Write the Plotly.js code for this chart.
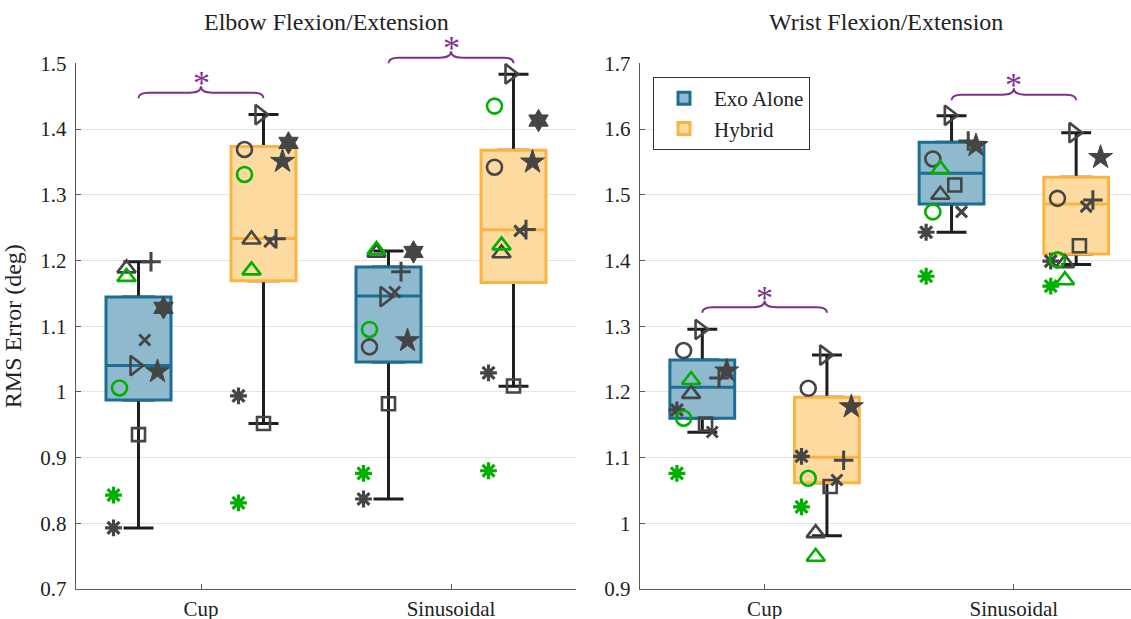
<!DOCTYPE html>
<html>
<head>
<meta charset="utf-8">
<script src="https://cdn.plot.ly/plotly-3.0.1.min.js"></script>
<style>
  html, body { margin: 0; padding: 0; background: #fff; }
  #chart { width: 1131px; height: 619px; }
</style>
</head>
<body>
<div id="chart"></div>
<script>
// ---- categories and conditions ----
const categories = ['Cup', 'Sinusoidal'];
const conditions = ['Exo Alone', 'Hybrid'];
const panelTitles = ['Elbow Flexion/Extension', 'Wrist Flexion/Extension'];

// ---- per-subject RMS errors (deg) ----
// subject order: grey *, grey o, grey triangle, right triangle, square, x, +, star, hexagram,
//                green *, green o, green triangle
const elbowExoCup = [0.793, null, 1.188, 1.040, 0.935, 1.079, 1.198, 1.031, 1.128, 0.843, 1.006, 1.175];
const elbowExoSin = [0.837, 1.0685, 1.212, 1.145, 0.982, 1.152, 1.183, 1.078, 1.213, 0.876, 1.095, 1.216];
const elbowHybCup = [0.994, 1.369, 1.232, 1.422, 0.952, 1.229, 1.233, 1.351, 1.379, 0.831, 1.331, 1.185];
const elbowHybSin = [1.029, 1.342, 1.211, 1.484, 1.009, 1.245, 1.247, 1.350, 1.413, 0.880, 1.435, 1.223];
const wristExoCup = [1.1725, 1.263, 1.197, 1.295, 1.151, 1.139, 1.221, 1.232, null, 1.076, 1.160, 1.218];
const wristExoSin = [1.443, 1.5545, 1.500, 1.621, 1.515, 1.474, 1.582, 1.575, null, 1.376, 1.474, 1.539];
const wristHybCup = [1.102, 1.2055, 0.985, 1.256, 1.056, 1.066, 1.096, 1.1775, null, 1.025, 1.0685, 0.949];
const wristHybSin = [1.399, 1.4946, 1.396, 1.5945, 1.4225, 1.482, 1.492, 1.557, null, 1.361, 1.401, 1.370];

// ---- box statistics: [lower whisker, Q1, median, Q3, upper whisker] ----
const elbowExoCupBox = [0.793, 0.9875, 1.040, 1.1446, 1.198];
const elbowExoSinBox = [0.837, 1.0457, 1.146, 1.190, 1.2146];
const elbowHybCupBox = [0.952, 1.169, 1.2334, 1.3734, 1.4224];
const elbowHybSinBox = [1.0087, 1.1665, 1.2467, 1.3677, 1.4833];
const wristExoCupBox = [1.1385, 1.1598, 1.207, 1.2486, 1.2953];
const wristExoSinBox = [1.443, 1.486, 1.5327, 1.580, 1.6204];
const wristHybCupBox = [0.981, 1.0618, 1.1005, 1.1918, 1.256];
const wristHybSinBox = [1.394, 1.410, 1.486, 1.5266, 1.5945];

// ---- significant pairs (Exo Alone vs Hybrid) per panel and category ----
const sigPanel = [0, 0, 1, 1];
const sigCategory = [0, 1, 0, 1];

// ---- styling ----
const FONT = '"Liberation Serif", "Times New Roman", serif';
const GREY = '#454545';
const GREEN = '#00b000';
const PURPLE = '#7e2f8e';
const WHISKER = '#1e1e1e';
const boxFill = ['#8fbace', '#fddaa0'];
const boxEdge = ['#1c6e94', '#fbb443'];
const condOffset = [-0.25, 0.25];

const subjectSymbol = ['asterisk-open', 'circle-open', 'triangle-up-open', 'triangle-right-open',
  'square-open', 'x-thin-open', 'cross-thin-open', 'star', 'hexagram',
  'asterisk-open', 'circle-open', 'triangle-up-open'];
const subjectColor = [GREY, GREY, GREY, GREY, GREY, GREY, GREY, GREY, GREY, GREEN, GREEN, GREEN];
const subjectSize = [14, 15, 16, 17, 13, 11, 14, 18, 17, 14, 15, 16];
const subjectLine = [3.2, 2.6, 2.6, 2.6, 2.6, 3, 3, 1, 1, 3.2, 2.6, 2.6];
// horizontal spread of subject markers inside a box, per panel
const elbowJitter = [-0.1, -0.076, -0.048, -0.015, 0, 0.025, 0.05, 0.076, 0.1, -0.1, -0.076, -0.048];
const wristJitter = [-0.102, -0.075, -0.045, -0.01, 0.013, 0.04, 0.067, 0.098, 0.098, -0.102, -0.075, -0.045];

// bracket geometry, in fractions of the axis height
const bracketBase = [0.9336, 1.0002, 0.5256, 0.930];
const bracketRise = 0.0105, bracketPeak = 0.0228, bracketStar = 0.041;
const bracketEndDx = 0.04, bracketMidDx = 0.045;

const panels = [
  { xa: 'x', ya: 'y', jitter: elbowJitter,
    values: [[elbowExoCup, elbowExoSin], [elbowHybCup, elbowHybSin]],
    boxes: [[elbowExoCupBox, elbowExoSinBox], [elbowHybCupBox, elbowHybSinBox]] },
  { xa: 'x2', ya: 'y2', jitter: wristJitter,
    values: [[wristExoCup, wristExoSin], [wristHybCup, wristHybSin]],
    boxes: [[wristExoCupBox, wristExoSinBox], [wristHybCupBox, wristHybSinBox]] }
];

const catPos = categories.map((c, i) => i + 1);
const traces = [];

panels.forEach((p, pi) => {
  conditions.forEach((cond, ci) => {
    const xs = catPos.map(c => c + condOffset[ci]);
    const st = k => p.boxes[ci].map(b => b[k]);
    // whiskers (black), narrow box hidden under the coloured box
    traces.push({
      type: 'box', xaxis: p.xa, yaxis: p.ya, x: xs,
      lowerfence: st(0), q1: st(1), median: st(2), q3: st(3), upperfence: st(4),
      width: 0.12, whiskerwidth: 1, boxpoints: false,
      line: { color: WHISKER, width: 3 }, fillcolor: '#ffffff',
      showlegend: false, hoverinfo: 'skip'
    });
    // coloured interquartile box with median
    traces.push({
      type: 'box', xaxis: p.xa, yaxis: p.ya, x: xs, name: cond,
      lowerfence: st(1), q1: st(1), median: st(2), q3: st(3), upperfence: st(3),
      width: 0.26, whiskerwidth: 0, boxpoints: false,
      line: { color: boxEdge[ci], width: 3 }, fillcolor: boxFill[ci],
      showlegend: pi === 1, legendgroup: cond, hoverinfo: 'skip'
    });
  });
});

panels.forEach(p => {
  subjectSymbol.forEach((sym, si) => {
    const x = [], y = [];
    conditions.forEach((cond, ci) => {
      catPos.forEach((c, k) => {
        x.push(c + condOffset[ci] + p.jitter[si]);
        y.push(p.values[ci][k][si]);
      });
    });
    traces.push({
      type: 'scatter', mode: 'markers', xaxis: p.xa, yaxis: p.ya, x, y,
      marker: { symbol: sym, size: subjectSize[si], color: subjectColor[si],
                line: { width: subjectLine[si], color: subjectColor[si] } },
      showlegend: false, hoverinfo: 'skip', cliponaxis: false
    });
  });
});

// curly significance brackets with a star above
const shapes = [];
const annotations = [];
sigPanel.forEach((pi, i) => {
  const p = panels[pi];
  const c = catPos[sigCategory[i]];
  const x0 = c + condOffset[0], x1 = c + condOffset[1];
  const y0 = bracketBase[i], yl = y0 + bracketRise, yp = y0 + bracketPeak;
  const path = [
    `M${x0},${y0}`,
    `Q${x0},${yl} ${x0 + bracketEndDx},${yl}`,
    `L${c - bracketMidDx},${yl}`,
    `Q${c},${yl} ${c},${yp}`,
    `Q${c},${yl} ${c + bracketMidDx},${yl}`,
    `L${x1 - bracketEndDx},${yl}`,
    `Q${x1},${yl} ${x1},${y0}`
  ].join(' ');
  shapes.push({ type: 'path', xref: p.xa, yref: p.ya + ' domain', path,
                line: { color: PURPLE, width: 2 }, layer: 'above' });
  annotations.push({ xref: p.xa, yref: p.ya + ' domain', x: c, y: y0 + bracketStar,
                     text: '*', showarrow: false, yanchor: 'middle', yshift: -6,
                     font: { family: FONT, size: 34, color: PURPLE } });
});

const W = 1131, H = 619;
const yDom = [1 - 589 / H, 1 - 63.4 / H];
const xDom1 = [76 / W, 576 / W];
const xDom2 = [640 / W, 1];

[xDom1, xDom2].forEach((d, i) => {
  annotations.push({ xref: 'paper', yref: 'paper', x: (d[0] + d[1]) / 2, y: 1 - 22 / H,
                     text: panelTitles[i], showarrow: false, xanchor: 'center', yanchor: 'middle',
                     font: { family: FONT, size: 24, color: '#222' } });
});

const axisCommon = {
  showline: true, linecolor: '#5a5a5a', linewidth: 1.3, mirror: false,
  ticks: 'inside', ticklen: 5, tickcolor: '#5a5a5a', tickwidth: 1,
  zeroline: false, fixedrange: true,
  tickfont: { family: FONT, size: 21, color: '#222' }
};
const xCommon = Object.assign({}, axisCommon, {
  tickvals: catPos, ticktext: categories, showgrid: false, ticklabelstandoff: 0
});
const yCommon = Object.assign({}, axisCommon, {
  dtick: 0.1, showgrid: true, gridcolor: '#e4e4e4', gridwidth: 1, domain: yDom, ticklabelstandoff: 4
});

const layout = {
  width: W, height: H,
  margin: { l: 0, r: 0, t: 0, b: 0 },
  paper_bgcolor: '#ffffff', plot_bgcolor: '#ffffff',
  boxmode: 'overlay',
  showlegend: true,
  legend: {
    x: 653 / W, y: 1 - 77 / H, xanchor: 'left', yanchor: 'top',
    bgcolor: '#ffffff', bordercolor: '#333', borderwidth: 1,
    font: { family: FONT, size: 21, color: '#222' },
    itemwidth: 50,
    tracegroupgap: 0, itemclick: false, itemdoubleclick: false
  },
  xaxis: Object.assign({}, xCommon, { domain: xDom1, range: [0.5, 2.5], anchor: 'y' }),
  yaxis: Object.assign({}, yCommon, { range: [0.7, 1.5], tick0: 0.7, anchor: 'x',
    title: { text: 'RMS Error (deg)', font: { family: FONT, size: 24, color: '#222' }, standoff: 12 } }),
  xaxis2: Object.assign({}, xCommon, { domain: xDom2, range: [0.5, 2.47], anchor: 'y2' }),
  yaxis2: Object.assign({}, yCommon, { range: [0.9, 1.7], tick0: 0.9, anchor: 'x2' }),
  shapes, annotations
};

Plotly.newPlot('chart', traces, layout, { displayModeBar: false, staticPlot: true });
</script>
</body>
</html>
